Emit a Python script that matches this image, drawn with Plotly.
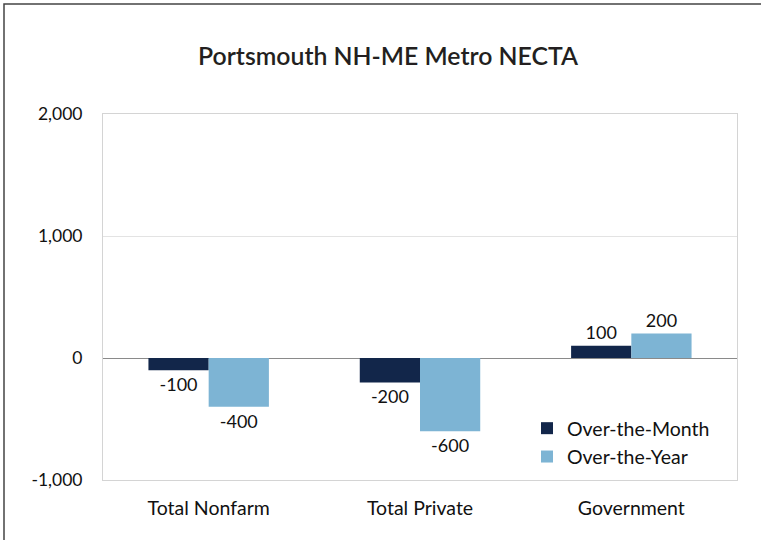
import plotly.graph_objects as go

categories = ["Total Nonfarm", "Total Private", "Government"]
series_names = ["Over-the-Month", "Over-the-Year"]
over_the_month = [-100, -200, 100]
over_the_year = [-400, -600, 200]
tick_vals = [-1000, 0, 1000, 2000]
tick_text = ["-1,000", "0", "1,000", "2,000"]

colors = ["#12264a", "#7db4d4"]
FONT = "Lato, 'Open Sans', sans-serif"

L, T, PW, PH = 103, 114, 634, 366
W, H = 761, 540

fig = go.Figure()
for name, vals, col in zip(series_names, [over_the_month, over_the_year], colors):
    fig.add_trace(go.Bar(
        x=categories, y=vals, name=name, marker=dict(color=col, line=dict(width=0)),
        text=[f"{v:,}" for v in vals], textposition="outside",
        textfont=dict(family=FONT, size=18, color="#111111"),
        cliponaxis=False,
    ))

fig.update_layout(
    width=W, height=H,
    margin=dict(l=L, r=W - L - PW, t=T, b=H - T - PH),
    paper_bgcolor="white", plot_bgcolor="white",
    barmode="group", bargap=0.43, bargroupgap=0,
    title=dict(text="Portsmouth NH-ME Metro NECTA", x=388 / W, xanchor="center",
               y=1 - 56 / H, yanchor="middle",
               font=dict(family=FONT, size=24.8, color="#231f20", weight=600)),
    font=dict(family=FONT, size=17, color="#111111"),
    legend=dict(x=(527 - 103) / PW, y=(480 - 409) / PH, xanchor="left", yanchor="top",
                bgcolor="rgba(0,0,0,0)", font=dict(family=FONT, size=19.5, color="#111111"),
                itemwidth=30),
    xaxis=dict(showgrid=False, showline=True, linecolor="#d4d4d4", linewidth=1, mirror=True,
               ticks="", ticklabelstandoff=11,
               tickfont=dict(family=FONT, size=19.5, color="#111111")),
    yaxis=dict(range=[-1000, 2000], tickvals=tick_vals, ticktext=tick_text,
               showgrid=True, gridcolor="#e3e3e3", gridwidth=1,
               zeroline=True, zerolinecolor="#8a8a8a", zerolinewidth=1,
               showline=True, linecolor="#d4d4d4", linewidth=1, mirror=True,
               ticks="", ticklabelstandoff=16,
               tickfont=dict(family=FONT, size=17.5, color="#111111")),
    shapes=[dict(type="rect", xref="paper", yref="paper",
                 x0=(4 - 103) / PW, x1=(790 - 103) / PW,
                 y0=(480 - 570) / PH, y1=(480 - 4) / PH,
                 line=dict(color="#444444", width=1.5), layer="below")],
)

fig.write_html("out.html", config={"displayModeBar": False},
               post_script="document.body.style.margin='0';")
